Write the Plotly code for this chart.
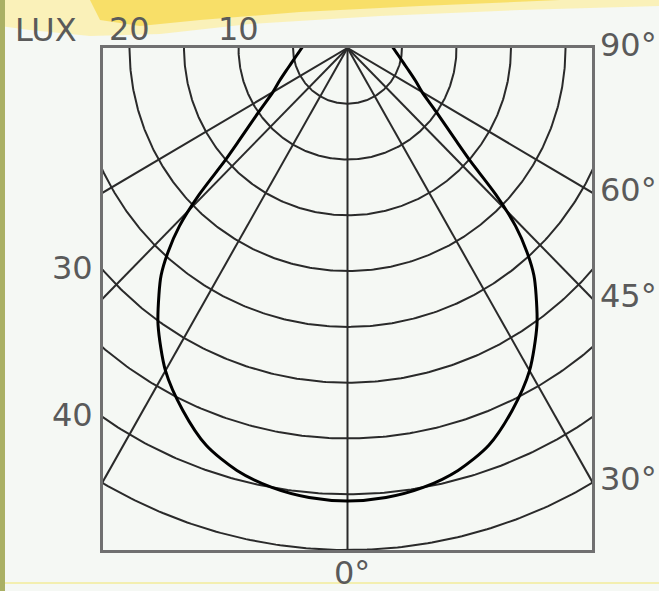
import numpy as np
import plotly.graph_objects as go

# ---------------- data ----------------
# luminous intensity distribution (lux) vs. angle from nadir (deg), symmetric
angles_deg = [0, 5, 10, 15, 20, 25, 30, 35, 38, 40, 42, 44, 46, 48, 50, 55, 60, 65, 70, 75, 80, 85, 90, 95]
lux_values = [40.6, 40.45, 40.0, 39.2, 37.9, 35.8, 33.4, 30.3, 28.1, 26.6, 24.6, 22.2, 18.9, 15.2, 13.1,
              9.9, 7.9, 6.85, 6.0, 5.35, 4.87, 4.49, 4.2, 4.0]
ring_values = [5, 10, 15, 20, 25, 30, 35, 40, 45]
ray_angles = [-60, -45, -30, 0, 30, 45, 60]
top_labels = ["20", "10"]
top_label_values = [-20, -10]
left_labels = ["30", "40"]
left_label_values = [30, 40]
right_labels = ["90°", "60°", "45°", "30°"]
right_label_angles = [90, 60, 45, 30]

# ---------------- geometry ----------------
W, H = 659, 591
L, R, T, B = 103, 592, 48, 550
XMAX = 22.43
YMIN = -45.0
SX = (R - L) / (2 * XMAX)
SY = (B - T) / (-YMIN)

def px_to_paper_x(px):
    return (px - L) / (R - L)

def px_to_paper_y(py):
    return (B - py) / (B - T)

def data_y_to_px(y):
    return T - y * SY

grid_color = "#2a2a2a"
text_color = "#5a5a5a"
bg = "#f5f8f4"
FONT = "DejaVu Sans"

fig = go.Figure()

# rings
xs, ys = [], []
phi = np.linspace(-np.pi / 2 - 0.2, np.pi / 2 + 0.2, 400)
for r in ring_values:
    xs += list(r * np.sin(phi)) + [None]
    ys += list(-r * np.cos(phi)) + [None]
fig.add_trace(go.Scatter(x=xs, y=ys, mode="lines", line=dict(color=grid_color, width=2.0),
                         hoverinfo="skip", showlegend=False))

# rays
xs, ys = [], []
for a in ray_angles:
    t = np.radians(a)
    xs += [0, 80 * np.sin(t), None]
    ys += [0, -80 * np.cos(t), None]
fig.add_trace(go.Scatter(x=xs, y=ys, mode="lines", line=dict(color=grid_color, width=2.0),
                         hoverinfo="skip", showlegend=False))

# intensity curve (mirror both sides)
ang = np.array(angles_deg, dtype=float)
val = np.array(lux_values, dtype=float)
full_ang = np.concatenate([-ang[::-1], ang[1:]])
full_val = np.concatenate([val[::-1], val[1:]])
th = np.radians(full_ang)
fig.add_trace(go.Scatter(x=full_val * np.sin(th), y=-full_val * np.cos(th), mode="lines",
                         line=dict(color="#000000", width=3, shape="spline", smoothing=0.8),
                         hoverinfo="skip", showlegend=False))

# ---------------- decorations (background photo artefacts) ----------------
def path_px(points):
    s = ""
    for i, (px, py) in enumerate(points):
        s += ("M" if i == 0 else "L") + f"{px_to_paper_x(px):.4f},{px_to_paper_y(py):.4f} "
    return s + "Z"

shapes = [
    dict(type="path", xref="paper", yref="paper", layer="below",
         path=path_px([(0, 0), (659, 0), (659, 6), (520, 10), (380, 16), (250, 24), (160, 34), (90, 36), (30, 30), (0, 26)]),
         fillcolor="rgba(252,238,160,0.7)", line=dict(width=0)),
    dict(type="path", xref="paper", yref="paper", layer="below",
         path=path_px([(90, 0), (560, 0), (420, 6), (300, 12), (200, 20), (140, 26), (100, 20)]),
         fillcolor="rgba(247,214,60,0.65)", line=dict(width=0)),
    dict(type="rect", xref="paper", yref="paper", layer="below",
         x0=px_to_paper_x(0), x1=px_to_paper_x(5), y0=px_to_paper_y(H), y1=px_to_paper_y(0),
         fillcolor="#aab064", line=dict(width=0)),
    dict(type="line", xref="paper", yref="paper", layer="below",
         x0=px_to_paper_x(5), x1=px_to_paper_x(W), y0=px_to_paper_y(583), y1=px_to_paper_y(583),
         line=dict(color="#f3efb0", width=2)),
]

# ---------------- labels ----------------
ann = []
fnt = dict(family=FONT, size=32, color=text_color)
ann.append(dict(text="LUX", xref="paper", yref="paper", x=px_to_paper_x(46), y=px_to_paper_y(30),
                xanchor="center", yanchor="middle", showarrow=False, font=fnt))
for lab, v in zip(top_labels, top_label_values):
    ann.append(dict(text=lab, xref="x", yref="paper", x=v, y=px_to_paper_y(29),
                    xanchor="center", yanchor="middle", showarrow=False, font=fnt))
for lab, v in zip(left_labels, left_label_values):
    yv = -np.sqrt(v ** 2 - XMAX ** 2)
    ann.append(dict(text=lab, xref="paper", yref="paper", x=px_to_paper_x(95),
                    y=px_to_paper_y(data_y_to_px(yv) - 2),
                    xanchor="right", yanchor="middle", showarrow=False, font=fnt))
for lab, a in zip(right_labels, right_label_angles):
    if a == 90:
        py = 45
    else:
        yv = -XMAX / np.tan(np.radians(a))
        py = data_y_to_px(yv) - 2
    ann.append(dict(text=lab, xref="paper", yref="paper", x=px_to_paper_x(598), y=px_to_paper_y(py),
                    xanchor="left", yanchor="middle", showarrow=False, font=fnt))
ann.append(dict(text="0°", xref="x", yref="paper", x=0.4, y=px_to_paper_y(573),
                xanchor="center", yanchor="middle", showarrow=False, font=fnt))

axis_common = dict(showgrid=False, zeroline=False, showticklabels=False, ticks="",
                   showline=True, mirror=True, linecolor="#707070", linewidth=3, fixedrange=True)
fig.update_layout(
    width=W, height=H, autosize=False,
    margin=dict(l=L, r=W - R, t=T, b=H - B, pad=0),
    paper_bgcolor=bg, plot_bgcolor=bg,
    xaxis=dict(range=[-XMAX, XMAX], **axis_common),
    yaxis=dict(range=[YMIN, 0], **axis_common),
    shapes=shapes, annotations=ann, showlegend=False, hovermode=False,
)

fig.write_html("out.html", config={"displayModeBar": False, "staticPlot": True},
               post_script="document.body.style.margin='0px';document.body.style.overflow='hidden';")
